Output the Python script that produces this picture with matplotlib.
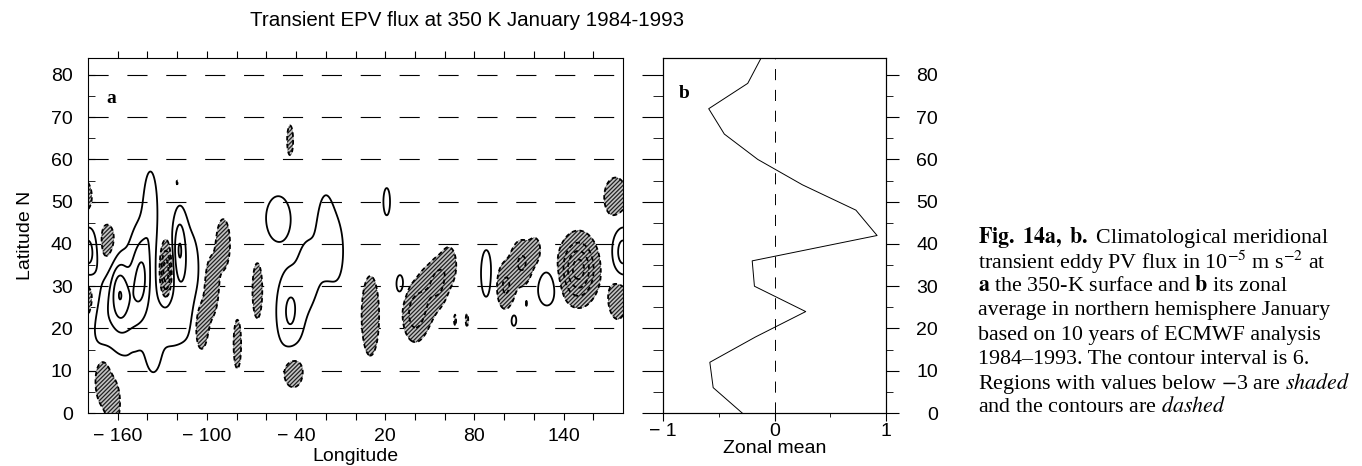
"""
Transient EPV flux at 350 K, January 1984-1993: map (a) and zonal mean (b).
"""

import matplotlib
matplotlib.use("Agg")
import matplotlib.pyplot as plt
import numpy as np
from matplotlib.ticker import MultipleLocator

plt.rcParams["font.family"] = ["Liberation Sans", "DejaVu Sans"]
plt.rcParams["mathtext.fontset"] = "stix"
plt.rcParams["lines.scale_dashes"] = False
plt.rcParams["lines.dashed_pattern"] = [3.2, 2.4]
plt.rcParams["hatch.color"] = "#222222"
plt.rcParams["hatch.linewidth"] = 0.9

W, H = 1362, 466
TEXT_COLOR = "black"
SHADE = "#c4c4c4"

# ─── Panel a: flux features (centre lon/lat, peak, half-widths) ──
BLOB_LON = [175, -167, -170, -163, -150, -120, -127.5, -104, -97, -89, -79.5, -66,
            -42, -44, 10, 40, 48, 56, 63, 67, 75, 101, 112, 121, 150, 178,
            180, -144, -159, -155, -138, -118.5, -125, -136, -171, -112,
            -52, -20, -44, -32, -12, 21, 30, 88, 106.5, 115, 129]
BLOB_LAT = [51, 40, 8, 2.5, 10, 54.5, 33.5, 21, 30, 40, 16.3, 29,
            10, 64.5, 23, 23.5, 28, 31, 35, 22, 22, 30, 35.5, 38.5, 34, 27,
            38, 33, 29, 25, 48, 39, 22, 14, 22, 32,
            46, 42, 24, 33, 38, 50, 30.5, 33, 22, 26, 29.5]
BLOB_AMP = [-6, -6, -7, -7, -3.7, -3.6, -20, -8, -8, -7, -5, -5,
            -6, -5, -6, -12, -7, -9.5, -6, -3.8, -3.9, -10, -10, -5, -24, -7,
            12, 14, 12, 11, 7, 13, 6, 5, 5, 6,
            6, 6, 10, 6, 4, 5, 5, 5, 4.5, 3.5, 6]
BLOB_SLON = [6.5, 5, 4, 3.5, 1.5, 1, 2.5, 3.5, 3.5, 3.5, 2.5, 3.3,
             6, 2, 5, 5, 5, 4, 4, 1, 1.2, 4, 5, 3, 7.3, 6,
             4.5, 5, 4, 9, 3.5, 3, 8, 4, 5, 6,
             7, 5, 6, 5, 4, 2.2, 2.5, 3.5, 2, 0.8, 5.5]
BLOB_SLAT = [4, 4, 4.5, 4, 1.8, 1.5, 4, 4.5, 5, 4.5, 5.7, 6.5,
             3.5, 3.5, 8, 4, 4.5, 3.5, 3.5, 1.8, 2, 3.5, 3.5, 2.5, 4.5, 4,
             4, 7, 5, 7, 7, 5.5, 5, 4, 6, 9,
             4.5, 8, 6.5, 6, 6, 3.2, 2.2, 5.5, 1.6, 1.2, 3.5]

CONTOUR_LEVELS = [-27, -21, -15, -9, -3, 3, 9, 15, 21]

# ─── Panel b: zonal mean ──────────────────────────────────────────────────────
ZM_LAT = [84, 78, 72, 66, 60, 54, 48, 42, 36, 30, 24, 18, 12, 6, 0]
ZM_VAL = [-0.12, -0.24, -0.59, -0.45, -0.15, 0.25, 0.73, 0.92, -0.20, -0.18,
          0.28, -0.17, -0.58, -0.55, -0.29]

LON_TICKS = list(range(-160, 161, 20))
LON_LABELS = {-160: "\u2212 160", -100: "\u2212 100", -40: "\u2212 40",
              20: "20", 80: "80", 140: "140"}
LAT_TICKS = list(range(0, 81, 10))

CAPTION = [
    r"$\mathbf{Fig.\ 14a,\ b.}$ Climatological meridional",
    r"transient eddy PV flux in 10$^{-5}$ m s$^{-2}$ at",
    r"$\mathbf{a}$ the 350-K surface and $\mathbf{b}$ its zonal",
    "average in northern hemisphere January",
    "based on 10 years of ECMWF analysis",
    "1984\u20131993. The contour interval is 6.",
    r"Regions with values below $-$3 are $\mathit{shaded}$",
    r"and the contours are $\mathit{dashed}$",
]


def _flux_field(lon, lat):
    field = np.zeros_like(lon)
    for x0, y0, amp, sx, sy in zip(BLOB_LON, BLOB_LAT, BLOB_AMP, BLOB_SLON, BLOB_SLAT):
        dlon = (lon - x0 + 180) % 360 - 180
        field += amp * np.exp(-0.5 * ((dlon / sx) ** 2 + ((lat - y0) / sy) ** 2))
    return field


def _axes_box(left, right, top, bottom):
    return [left / W, (H - bottom) / H, (right - left) / W, (bottom - top) / H]


fig = plt.figure(figsize=(W / 100, H / 100), dpi=100)

# ─── Map panel ────────────────────────────────────────────────────────────────
ax_a = fig.add_axes(_axes_box(88, 623, 58, 413))
lon = np.arange(-180, 180.01, 0.5)
lat = np.arange(0, 84.01, 0.25)
LON, LAT = np.meshgrid(lon, lat)
F = _flux_field(LON, LAT)

for y in LAT_TICKS[1:]:
    ax_a.axhline(y, color="black", lw=0.8, dashes=(14.5, 13.5), zorder=1)

ax_a.contourf(LON, LAT, F, levels=[-1000, -3], colors=[SHADE], hatches=["////////"], zorder=2)
ax_a.contour(LON, LAT, F, levels=CONTOUR_LEVELS, colors="black", linewidths=1.3, zorder=3)

ax_a.set_xlim(-180, 180)
ax_a.set_ylim(0, 84)
ax_a.set_xticks(LON_TICKS)
ax_a.set_xticklabels([LON_LABELS.get(t, "") for t in LON_TICKS])
ax_a.set_yticks(LAT_TICKS)
ax_a.yaxis.set_minor_locator(MultipleLocator(5))
ax_a.tick_params(axis="x", direction="out", length=5, top=True, labelsize=14, pad=6)
ax_a.tick_params(axis="y", which="both", direction="in", length=5, labelsize=14, pad=11)
ax_a.set_xlabel("Longitude", fontsize=14, labelpad=2)
ax_a.set_ylabel("Latitude N", fontsize=14, labelpad=12)
ax_a.text(-164.5, 74.5, "a", family="Liberation Serif", fontweight="bold",
          fontsize=14, ha="center", va="center")
for spine in ax_a.spines.values():
    spine.set_linewidth(0.8)

# ─── Zonal mean panel ─────────────────────────────────────────────────────────
ax_b = fig.add_axes(_axes_box(663, 886, 58, 413))
ax_b.plot(ZM_VAL, ZM_LAT, color="black", lw=0.7)
ax_b.axvline(0, color="black", lw=0.7, dashes=(8, 7))
ax_b.set_xlim(-1, 1)
ax_b.set_ylim(0, 84)
ax_b.set_xticks([-1, 0, 1])
ax_b.set_xticklabels(["\u2212 1", "0", "1"])
ax_b.xaxis.set_minor_locator(MultipleLocator(0.5))
ax_b.set_yticks(LAT_TICKS)
ax_b.yaxis.set_minor_locator(MultipleLocator(5))
ax_b.tick_params(axis="x", which="major", direction="out", length=6, labelsize=14, pad=1)
ax_b.tick_params(axis="x", which="minor", direction="out", length=3)
ax_b.tick_params(axis="y", which="major", direction="out", length=15, labelleft=False)
ax_b.tick_params(axis="y", which="minor", direction="out", length=7)
ax_b.set_xlabel("Zonal mean", fontsize=14, labelpad=0)
ax_b.text(-0.81, 75.7, "b", family="Liberation Serif", fontweight="bold",
          fontsize=14, ha="center", va="center")

ax_r = ax_b.twinx()
ax_r.set_ylim(0, 84)
ax_r.set_yticks(LAT_TICKS)
ax_r.yaxis.set_minor_locator(MultipleLocator(5))
ax_r.tick_params(axis="y", which="major", direction="out", length=9.5, labelsize=14, pad=28)
ax_r.tick_params(axis="y", which="minor", direction="out", length=5)
for lab in ax_r.get_yticklabels():
    lab.set_horizontalalignment("right")
for ax in (ax_b, ax_r):
    for spine in ax.spines.values():
        spine.set_linewidth(0.8)

# ─── Title and caption ────────────────────────────────────────────────────────
fig.text(467 / W, 1 - 20 / H, "Transient EPV flux at 350 K January 1984-1993",
         fontsize=14.8, ha="center", va="center", color=TEXT_COLOR)

for i, line in enumerate(CAPTION):
    fig.text(978 / W, 1 - (238 + i * 24.2) / H, line, family="Liberation Serif",
             fontsize=15.8, ha="left", va="center", color=TEXT_COLOR)

fig.savefig("out.png", dpi=100)
